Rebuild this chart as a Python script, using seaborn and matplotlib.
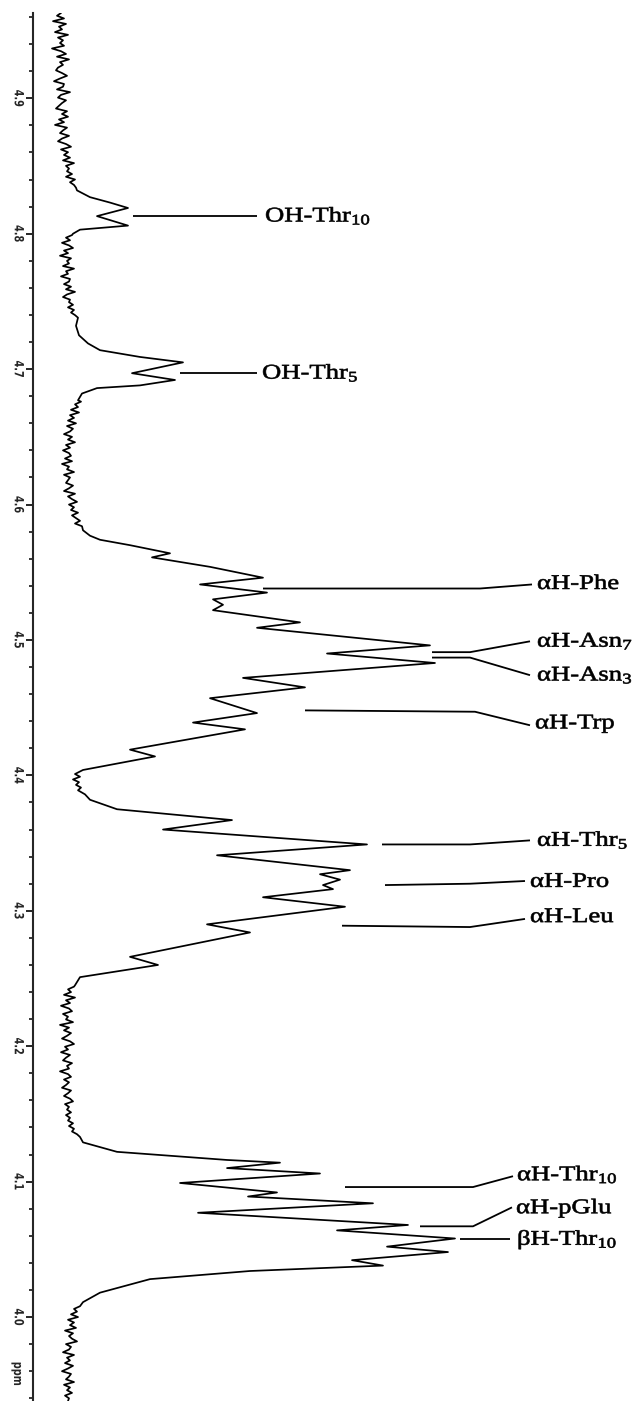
import numpy as np
import pandas as pd
import matplotlib
matplotlib.use("Agg")
import matplotlib.pyplot as plt
import seaborn as sns
from matplotlib.patheffects import AbstractPathEffect
from matplotlib.transforms import Affine2D, blended_transform_factory
from matplotlib.ticker import MultipleLocator, FixedLocator

# ---------------------------------------------------------------- axis
ppm_ticks = [4.9, 4.8, 4.7, 4.6, 4.5, 4.4, 4.3, 4.2, 4.1, 4.0]
ppm_tick_labels = ["4.9", "4.8", "4.7", "4.6", "4.5", "4.4", "4.3", "4.2", "4.1", "4.0"]
ppm_low, ppm_high = 3.938, 4.963

# ------------------------------------------- baseline stretches (a.u.)
base_1_span = (4.963, 4.834)
base_1 = [28, 24, 31, 20, 33, 26, 29, 22, 35, 25, 30, 27, 31, 19, 28, 33, 24, 36,
          27, 30, 25, 23, 29, 34, 27, 21, 31, 30, 24, 37, 28, 25, 33, 29, 26, 23,
          34, 29, 35, 26, 31, 22, 34, 30, 27, 36, 29, 25, 33, 38, 28, 35, 31, 37,
          30, 41, 33, 36, 34, 39, 33, 42, 37, 41, 43]

base_2_span = (4.799, 4.738)
base_2 = [39, 33, 37, 29, 36, 40, 31, 35, 27, 38, 34, 36, 30, 41, 33, 35, 28, 37,
          36, 31, 38, 33, 42, 34, 30, 37, 36, 40, 35, 41, 38, 42, 45]

base_3_span = (4.676, 4.584)
base_3 = [48, 42, 45, 38, 46, 37, 41, 35, 43, 34, 40, 37, 31, 39, 35, 42, 33, 37,
          30, 36, 38, 32, 39, 29, 36, 34, 41, 31, 37, 35, 33, 40, 36, 31, 42, 35,
          39, 44, 36, 41, 38, 45, 39, 43, 47, 42, 49]

base_4_span = (4.244, 4.133)
base_4 = [41, 35, 38, 31, 42, 33, 37, 28, 36, 39, 30, 35, 33, 40, 27, 36, 31, 38,
          34, 29, 37, 41, 32, 35, 28, 37, 33, 30, 39, 34, 36, 27, 35, 38, 31, 36,
          33, 29, 38, 35, 31, 37, 40, 32, 36, 34, 38, 33, 37, 35, 40, 36, 41, 39,
          44, 47]

base_5_span = (4.008, 3.938)
base_5 = [47, 41, 44, 38, 45, 35, 41, 37, 43, 32, 40, 36, 39, 44, 33, 38, 36, 30,
          41, 34, 37, 32, 40, 35, 29, 38, 36, 33, 41, 31, 37, 34, 39, 32, 36, 35]

# ------------------------------------------------------ signal regions
# OH of Thr10
sig_1_ppm = [4.832, 4.827, 4.823, 4.819, 4.813, 4.806, 4.803, 4.800]
sig_1_int = [44, 57, 77, 95, 64, 95, 47, 40]

# OH of Thr5
sig_2_ppm = [4.732, 4.725, 4.719, 4.714, 4.709, 4.705, 4.697, 4.692, 4.688, 4.686,
             4.682, 4.677]
sig_2_int = [43, 46, 55, 67, 107, 150, 99, 142, 107, 64, 49, 45]

# alpha-proton envelope 4.58 - 4.25 ppm
sig_3_ppm = [4.581, 4.577, 4.574, 4.570, 4.564, 4.561, 4.554, 4.546, 4.541, 4.535,
             4.530, 4.526, 4.522, 4.513, 4.509, 4.496, 4.490, 4.483, 4.472, 4.465,
             4.457, 4.446, 4.439, 4.434, 4.419, 4.414, 4.404, 4.401, 4.399, 4.397,
             4.395, 4.393, 4.391, 4.389, 4.386, 4.382, 4.375, 4.367, 4.360, 4.349,
             4.341, 4.330, 4.327, 4.323, 4.319, 4.316, 4.310, 4.303, 4.290, 4.284,
             4.266, 4.260, 4.251, 4.245]
sig_3_int = [50, 57, 67, 97, 137, 119, 177, 230, 167, 234,
             180, 190, 180, 267, 224, 397, 294, 402, 210, 272,
             177, 224, 160, 212, 97, 122, 50, 42, 47, 40,
             46, 43, 48, 45, 52, 57, 84, 199, 130, 334,
             184, 317, 287, 307, 290, 300, 230, 312, 174, 217,
             97, 125, 47, 42]

# Thr10 / pGlu region 4.13 - 4.01 ppm
sig_4_ppm = [4.129, 4.122, 4.116, 4.114, 4.110, 4.106, 4.099, 4.092, 4.089, 4.084,
             4.077, 4.068, 4.064, 4.058, 4.052, 4.048, 4.042, 4.038, 4.034, 4.028,
             4.018, 4.011]
sig_4_int = [50, 84, 194, 247, 194, 287, 147, 244, 215, 340,
             165, 375, 304, 422, 354, 415, 319, 350, 217, 117,
             67, 50]

# ------------------------------------------------------- assignments
assign_text = ["OH-Thr$_{10}$", "OH-Thr$_5$", "αH-Phe", "αH-Asn$_7$", "αH-Asn$_3$",
               "αH-Trp", "αH-Thr$_5$", "αH-Pro", "αH-Leu", "αH-Thr$_{10}$",
               "αH-pGlu", "βH-Thr$_{10}$"]
assign_ppm = [4.813, 4.697, 4.541, 4.499, 4.474, 4.438, 4.352, 4.321, 4.295,
              4.105, 4.080, 4.057]
assign_int = [232, 229, 504, 504, 504, 502, 504, 497, 497, 484, 483, 484]
leader_int = [[100, 224], [147, 224], [230, 447, 499], [399, 437, 497],
              [399, 437, 497], [272, 442, 497], [349, 437, 497], [352, 437, 492],
              [309, 437, 492], [312, 440, 480], [387, 440, 479], [427, 477]]
leader_ppm = [[4.813, 4.813], [4.697, 4.697], [4.538, 4.538, 4.541],
              [4.491, 4.491, 4.499], [4.487, 4.487, 4.474], [4.448, 4.447, 4.437],
              [4.349, 4.349, 4.352], [4.319, 4.320, 4.322], [4.289, 4.288, 4.294],
              [4.096, 4.096, 4.104], [4.067, 4.067, 4.081], [4.058, 4.058]]


class WideInk(AbstractPathEffect):
    """Glyph outlines widened along the page's horizontal direction,
    filled and lightly stroked for a heavier printed look."""

    def __init__(self, factor, stroke=0.0):
        super().__init__()
        self.factor = factor
        self.stroke = stroke

    def draw_path(self, renderer, gc, tpath, affine, rgbFace=None):
        m = affine.get_matrix().copy()
        m[0, :2] *= self.factor
        gc0 = renderer.new_gc()
        gc0.copy_properties(gc)
        if self.stroke > 0 and rgbFace is not None:
            gc0.set_foreground(rgbFace)
            gc0.set_linewidth(self.stroke)
        renderer.draw_path(gc0, tpath, Affine2D(m), rgbFace)
        gc0.restore()


def baseline(span, values):
    return np.linspace(span[0], span[1], len(values)), np.asarray(values, float)


segments = [
    baseline(base_1_span, base_1),
    (np.array(sig_1_ppm), np.array(sig_1_int, float)),
    baseline(base_2_span, base_2),
    (np.array(sig_2_ppm), np.array(sig_2_int, float)),
    baseline(base_3_span, base_3),
    (np.array(sig_3_ppm), np.array(sig_3_int, float)),
    baseline(base_4_span, base_4),
    (np.array(sig_4_ppm), np.array(sig_4_int, float)),
    baseline(base_5_span, base_5),
]
spectrum = pd.DataFrame({
    "ppm": np.concatenate([s[0] for s in segments]),
    "intensity": np.concatenate([s[1] for s in segments]),
})

sns.set_style("ticks")
plt.rcParams["font.family"] = ["Liberation Serif", "DejaVu Serif"]
plt.rcParams["mathtext.fontset"] = "custom"
plt.rcParams["mathtext.rm"] = "Liberation Serif"
plt.rcParams["mathtext.it"] = "Liberation Serif:italic"

W, H = 639, 1401
fig = plt.figure(figsize=(W / 100, H / 100), dpi=100)
ax = fig.add_axes([33 / W, 0.0, 606 / W, (H - 13) / H])

sns.lineplot(data=spectrum, x="intensity", y="ppm", orient="y", sort=False,
             estimator=None, color="black", linewidth=1.25, ax=ax)

for xs, ys in zip(leader_int, leader_ppm):
    ax.plot(xs, ys, color="black", linewidth=1.3, solid_capstyle="butt")

label_ink = [WideInk(1.28, stroke=0.45)]
for txt, y, x in zip(assign_text, assign_ppm, assign_int):
    t = ax.text(x, y, txt, fontsize=15, ha="left", va="center", color="black",
                family=["Liberation Serif", "DejaVu Serif"])
    t.set_path_effects(label_ink)

ax.set_xlim(0, 606)
ax.set_ylim(ppm_low, ppm_high)
ax.set_xlabel("")
ax.set_ylabel("")
ax.set_xticks([])
for side in ("top", "right", "bottom"):
    ax.spines[side].set_visible(False)
ax.spines["left"].set_linewidth(1.5)

ax.yaxis.set_major_locator(FixedLocator(ppm_ticks))
ax.set_yticklabels(ppm_tick_labels, rotation=-90, ha="center", va="center",
                   family="DejaVu Sans", fontsize=7, fontweight="bold")
ax.yaxis.set_minor_locator(MultipleLocator(0.02))
ax.tick_params(axis="y", which="major", direction="out", length=5, width=1.2,
               pad=6.0, color="black")
ax.tick_params(axis="y", which="minor", direction="out", length=3, width=1.1,
               color="black")
tick_ink = [WideInk(1.3)]
for lbl in ax.get_yticklabels():
    lbl.set_path_effects(tick_ink)

unit = ax.text(-0.0264, 3.958, "ppm", rotation=-90, ha="center", va="center",
               fontsize=7, fontweight="bold", family="DejaVu Sans",
               transform=blended_transform_factory(ax.transAxes, ax.transData),
               clip_on=False)
unit.set_path_effects(tick_ink)

fig.savefig("out.png", dpi=100, facecolor="white")
